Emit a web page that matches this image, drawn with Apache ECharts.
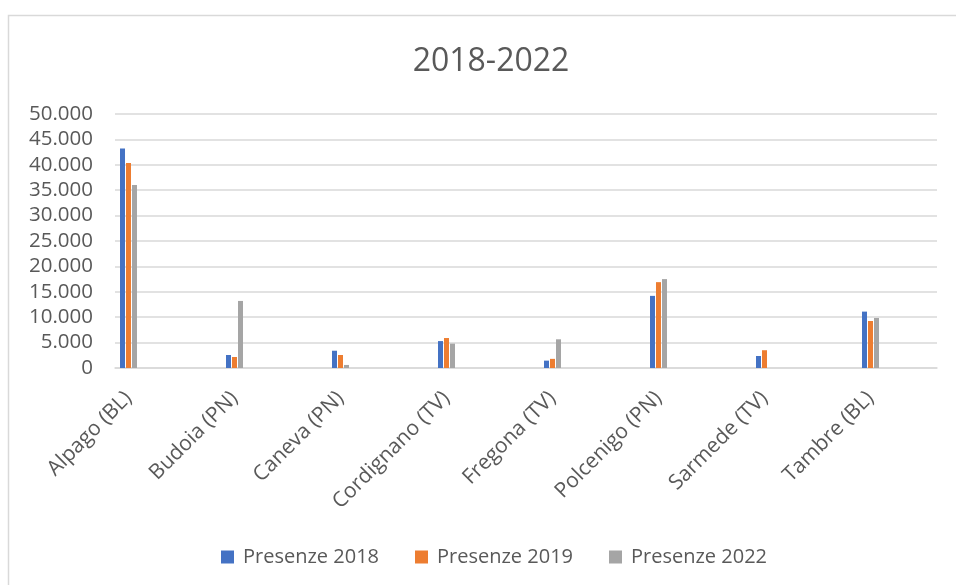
<!DOCTYPE html>
<html>
<head>
<meta charset="utf-8">
<script src="https://cdn.jsdelivr.net/npm/echarts@6/dist/echarts.min.js"></script>
<style>html,body{margin:0;padding:0;background:#fff;}#c{width:956px;height:585px;}</style>
</head>
<body>
<div id="c"></div>
<script>
var categories = ['Alpago (BL)', 'Budoia (PN)', 'Caneva (PN)', 'Cordignano (TV)', 'Fregona (TV)', 'Polcenigo (PN)', 'Sarmede (TV)', 'Tambre (BL)'];
var seriesNames = ['Presenze 2018', 'Presenze 2019', 'Presenze 2022'];
var presenze2018 = [43200, 2560, 3400, 5300, 1450, 14200, 2360, 11100];
var presenze2019 = [40350, 2170, 2560, 5900, 1800, 16900, 3500, 9250];
var presenze2022 = [36000, 13200, 600, 4800, 5650, 17500, 0, 9850];
var yMin = 0, yMax = 50000, yStep = 5000;

var colors = ['#4472C4', '#ED7D31', '#A5A5A5'];
var font = 'Open Sans';
var textColor = '#595959';

function fmt(v) {
  return String(v).replace(/\B(?=(\d{3})+(?!\d))/g, '.');
}

var chart = echarts.init(document.getElementById('c'), null, {renderer: 'canvas'});
var dataArr = [presenze2018, presenze2019, presenze2022];

chart.setOption({
  animation: false,
  color: colors,
  title: {
    text: '2018-2022',
    left: 486, top: 41, textAlign: 'center',
    textStyle: {fontFamily: font, fontSize: 32, fontWeight: 'normal', color: textColor}
  },
  legend: {
    data: seriesNames,
    left: 216, top: 542,
    icon: 'rect', itemWidth: 13, itemHeight: 13, itemGap: 36,
    textStyle: {fontFamily: font, fontSize: 20, color: textColor, padding: [0, 0, 0, 4]}
  },
  graphic: [{
    type: 'polyline',
    shape: {points: [[8.5, 600], [8.5, 15.5], [970, 15.5]]},
    style: {stroke: '#d9d9d9', lineWidth: 1.5, fill: null},
    silent: true
  }],
  grid: [
    {left: 115, right: 19, top: 114, bottom: 217},
    {left: 75.5, right: 32.5, top: 114, bottom: 217}
  ],
  xAxis: [
    {
      type: 'category', gridIndex: 0, data: categories,
      axisLine: {show: true, lineStyle: {color: '#d9d9d9', width: 1.5}},
      axisTick: {show: false}, axisLabel: {show: false}
    },
    {
      type: 'category', gridIndex: 1, data: categories,
      axisLine: {show: false}, axisTick: {show: false},
      axisLabel: {rotate: 45, margin: 27, fontFamily: font, fontSize: 21, color: textColor, interval: 0}
    }
  ],
  yAxis: [
    {
      type: 'value', gridIndex: 0, min: yMin, max: yMax, interval: yStep,
      axisLine: {show: false}, axisTick: {show: false},
      splitLine: {lineStyle: {color: '#d9d9d9', width: 1.5}},
      axisLabel: {margin: 22, fontFamily: font, fontSize: 20.5, color: textColor, formatter: fmt}
    },
    {
      type: 'value', gridIndex: 1, min: yMin, max: yMax, interval: yStep,
      show: false, splitLine: {show: false}
    }
  ],
  series: seriesNames.map(function (n, i) {
    return {
      name: n, type: 'bar', xAxisIndex: 1, yAxisIndex: 1,
      data: dataArr[i], barWidth: 5, barGap: '20%',
      itemStyle: {color: colors[i]}
    };
  })
});
</script>
</body>
</html>
